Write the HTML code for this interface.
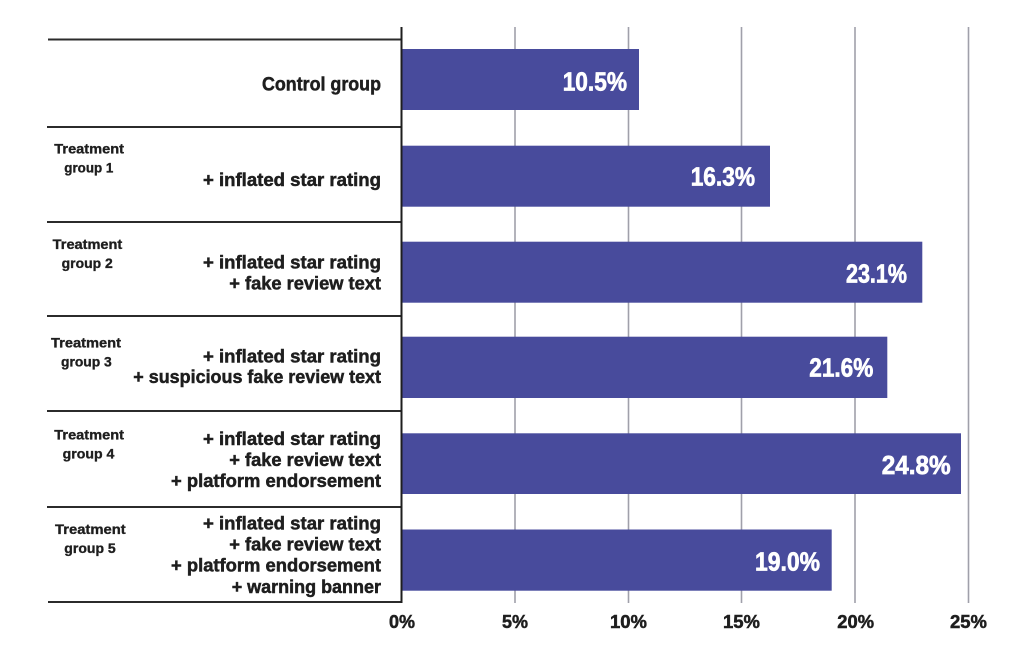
<!DOCTYPE html>
<html>
<head>
<meta charset="utf-8">
<style>
  html, body { margin: 0; padding: 0; background: #ffffff; }
  svg { display: block; }
  text { font-family: "Liberation Sans", Arial, sans-serif; font-weight: bold; }
</style>
</head>
<body>
<svg width="1021" height="656" viewBox="0 0 1021 656" xmlns="http://www.w3.org/2000/svg">
  <rect x="0" y="0" width="1021" height="656" fill="#ffffff"/>

  <!-- gridlines -->
  <g stroke="#a0a0aa" stroke-width="1.6">
    <line x1="515" y1="27" x2="515" y2="603"/>
    <line x1="628.5" y1="27" x2="628.5" y2="603"/>
    <line x1="741.5" y1="27" x2="741.5" y2="603"/>
    <line x1="855" y1="27" x2="855" y2="603"/>
    <line x1="968.5" y1="27" x2="968.5" y2="603"/>
  </g>

  <!-- bars -->
  <g fill="#484b9c">
    <rect x="401" y="49" width="238" height="61"/>
    <rect x="401" y="145.7" width="369" height="61"/>
    <rect x="401" y="241.7" width="521.3" height="61"/>
    <rect x="401" y="336.7" width="486.3" height="61.3"/>
    <rect x="401" y="433.3" width="560" height="60.7"/>
    <rect x="401" y="529.5" width="430.7" height="61.2"/>
  </g>

  <!-- separators -->
  <g stroke="#2b2b2b" stroke-width="2">
    <line x1="48" y1="39.5" x2="402" y2="39.5"/>
    <line x1="47" y1="127" x2="402" y2="127"/>
    <line x1="47" y1="222" x2="402" y2="222"/>
    <line x1="47" y1="316" x2="402" y2="316"/>
    <line x1="47" y1="411" x2="402" y2="411"/>
    <line x1="47" y1="507" x2="402" y2="507"/>
    <line x1="48" y1="602" x2="402" y2="602"/>
  </g>
  <!-- axis -->
  <line x1="401.5" y1="27" x2="401.5" y2="603" stroke="#1e1e1e" stroke-width="2"/>

  <!-- value labels -->
  <g fill="#ffffff" stroke="#ffffff" stroke-width="0.7" font-size="26">
    <text x="562.7" y="90.7" textLength="64.3" lengthAdjust="spacingAndGlyphs">10.5%</text>
    <text x="690.7" y="185.7" textLength="64.3" lengthAdjust="spacingAndGlyphs">16.3%</text>
    <text x="846" y="282.3" textLength="61" lengthAdjust="spacingAndGlyphs">23.1%</text>
    <text x="809.3" y="376.7" textLength="64" lengthAdjust="spacingAndGlyphs">21.6%</text>
    <text x="881.7" y="474" textLength="69" lengthAdjust="spacingAndGlyphs">24.8%</text>
    <text x="755" y="570.7" textLength="65" lengthAdjust="spacingAndGlyphs">19.0%</text>
  </g>

  <!-- tick labels -->
  <g fill="#1e1e1e" stroke="#1e1e1e" stroke-width="0.5" font-size="18">
    <text x="389" y="628" textLength="26" lengthAdjust="spacingAndGlyphs">0%</text>
    <text x="502" y="628" textLength="26" lengthAdjust="spacingAndGlyphs">5%</text>
    <text x="610" y="628" textLength="37" lengthAdjust="spacingAndGlyphs">10%</text>
    <text x="723" y="628" textLength="37" lengthAdjust="spacingAndGlyphs">15%</text>
    <text x="837.3" y="628" textLength="36.7" lengthAdjust="spacingAndGlyphs">20%</text>
    <text x="950" y="628" textLength="37" lengthAdjust="spacingAndGlyphs">25%</text>
  </g>

  <!-- category labels -->
  <g fill="#1e1e1e" stroke="#1e1e1e" stroke-width="0.5" font-size="19">
    <text x="262" y="90.7" textLength="119" lengthAdjust="spacingAndGlyphs">Control group</text>
  </g>
  <g fill="#1e1e1e" stroke="#1e1e1e" stroke-width="0.5" font-size="18.5">
    <!-- group 1 -->
    <text x="203" y="186" textLength="178" lengthAdjust="spacingAndGlyphs">+ inflated star rating</text>
    <!-- group 2 -->
    <text x="203" y="268.5" textLength="178" lengthAdjust="spacingAndGlyphs">+ inflated star rating</text>
    <text x="229.3" y="289.5" textLength="151.7" lengthAdjust="spacingAndGlyphs">+ fake review text</text>
    <!-- group 3 -->
    <text x="203" y="362.3" textLength="178" lengthAdjust="spacingAndGlyphs">+ inflated star rating</text>
    <text x="133.3" y="383" textLength="247.7" lengthAdjust="spacingAndGlyphs">+ suspicious fake review text</text>
    <!-- group 4 -->
    <text x="203" y="445" textLength="178" lengthAdjust="spacingAndGlyphs">+ inflated star rating</text>
    <text x="229.3" y="466" textLength="151.7" lengthAdjust="spacingAndGlyphs">+ fake review text</text>
    <text x="171" y="487" textLength="210" lengthAdjust="spacingAndGlyphs">+ platform endorsement</text>
    <!-- group 5 -->
    <text x="203" y="529.5" textLength="178" lengthAdjust="spacingAndGlyphs">+ inflated star rating</text>
    <text x="229.3" y="550.5" textLength="151.7" lengthAdjust="spacingAndGlyphs">+ fake review text</text>
    <text x="171" y="571.7" textLength="210" lengthAdjust="spacingAndGlyphs">+ platform endorsement</text>
    <text x="231.7" y="593" textLength="149.3" lengthAdjust="spacingAndGlyphs">+ warning banner</text>
  </g>

  <!-- treatment group labels -->
  <g fill="#1e1e1e" stroke="#1e1e1e" stroke-width="0.35" font-size="13.5">
    <text x="54.3" y="153.5" textLength="69.7" lengthAdjust="spacingAndGlyphs">Treatment</text>
    <text x="64.3" y="172.5" textLength="49" lengthAdjust="spacingAndGlyphs">group 1</text>

    <text x="52.7" y="249" textLength="69.6" lengthAdjust="spacingAndGlyphs">Treatment</text>
    <text x="61.7" y="268" textLength="51" lengthAdjust="spacingAndGlyphs">group 2</text>

    <text x="51" y="347.3" textLength="70" lengthAdjust="spacingAndGlyphs">Treatment</text>
    <text x="61" y="366.3" textLength="50.7" lengthAdjust="spacingAndGlyphs">group 3</text>

    <text x="54.3" y="439.3" textLength="69.7" lengthAdjust="spacingAndGlyphs">Treatment</text>
    <text x="62.7" y="458.3" textLength="51.6" lengthAdjust="spacingAndGlyphs">group 4</text>

    <text x="55" y="534" textLength="70.7" lengthAdjust="spacingAndGlyphs">Treatment</text>
    <text x="64.3" y="553" textLength="51.4" lengthAdjust="spacingAndGlyphs">group 5</text>
  </g>
</svg>
</body>
</html>
